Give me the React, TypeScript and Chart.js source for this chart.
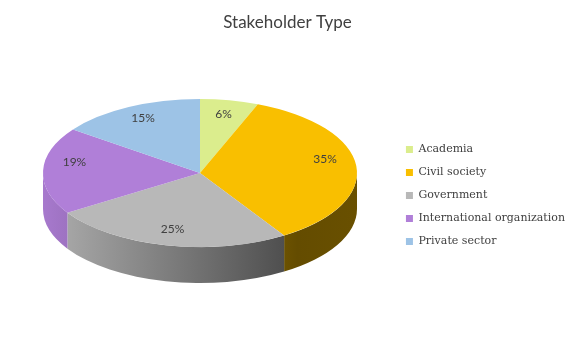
import React, { useEffect, useRef } from "react";
import { Chart, registerables } from "chart.js";

Chart.register(...registerables);

const categories = [
  "Academia",
  "Civil society",
  "Government",
  "International organization",
  "Private sector",
];
const shares = [6, 35, 25, 19, 15];
const colors = ["#DBED8D", "#F9BF00", "#B8B8B8", "#B07FD8", "#9DC3E6"];
const titleText = "Stakeholder Type";

const CX = 200;
const CY = 173;
const R = 157;
const K = 74 / 157;
const DEPTH = 36;
const LABEL_F = 0.8;
const LABEL_CY = 164;
const LABEL_RY_TOP = 64;
const LABEL_RY_BOTTOM = 84;

function hexToRgb(h: string) {
  const v = parseInt(h.slice(1), 16);
  return [(v >> 16) & 255, (v >> 8) & 255, v & 255];
}
function shade(h: string, f: number) {
  const [r, g, b] = hexToRgb(h);
  return `rgb(${Math.round(r * f)},${Math.round(g * f)},${Math.round(b * f)})`;
}

const pie3d = {
  id: "pie3d",
  beforeDatasetsDraw(chart: any) {
    const meta = chart.getDatasetMeta(0);
    const ctx = chart.ctx as CanvasRenderingContext2D;
    const arcs = meta.data;
    if (!arcs.length) return;
    const TWO = Math.PI * 2;
    arcs.forEach((arc: any, i: number) => {
      const { startAngle, endAngle } = arc.getProps(["startAngle", "endAngle"], true);
      for (const off of [-TWO, 0, TWO]) {
        const a0 = Math.max(startAngle + off, 0);
        const a1 = Math.min(endAngle + off, Math.PI);
        if (a1 <= a0) continue;
        const g = ctx.createLinearGradient(CX - R, 0, CX + R, 0);
        const col = colors[i % colors.length];
        g.addColorStop(0, shade(col, 0.95));
        g.addColorStop(0.81, shade(col, 0.4));
        g.addColorStop(1, shade(col, 0.42));
        ctx.save();
        ctx.beginPath();
        ctx.ellipse(CX, CY, R, R * K, 0, a0, a1);
        ctx.ellipse(CX, CY + DEPTH, R, R * K, 0, a1, a0, true);
        ctx.closePath();
        ctx.fillStyle = g;
        ctx.fill();
        ctx.restore();
      }
    });
    const a0: any = arcs[0];
    ctx.save();
    ctx.translate(CX, CY);
    ctx.scale(1, K);
    ctx.translate(-a0.x, -a0.y);
  },
  afterDatasetsDraw(chart: any) {
    const meta = chart.getDatasetMeta(0);
    const ctx = chart.ctx as CanvasRenderingContext2D;
    if (!meta.data.length) return;
    ctx.restore();
    ctx.save();
    ctx.font = "12px Lato";
    ctx.fillStyle = "#404040";
    ctx.textAlign = "center";
    ctx.textBaseline = "middle";
    meta.data.forEach((arc: any, i: number) => {
      const { startAngle, endAngle } = arc.getProps(["startAngle", "endAngle"], true);
      const mid = (startAngle + endAngle) / 2;
      const s = Math.sin(mid);
      const ry = s < 0 ? LABEL_RY_TOP : LABEL_RY_BOTTOM;
      const x = CX + R * LABEL_F * Math.cos(mid);
      const y = LABEL_CY + ry * LABEL_F * s;
      ctx.fillText(`${shares[i]}%`, x, y);
    });
    ctx.restore();
  },
};

export default function App() {
  const ref = useRef<HTMLCanvasElement>(null);
  useEffect(() => {
    document.body.style.margin = "0";
    const chart = new Chart(ref.current!, {
      type: "pie",
      data: {
        labels: categories,
        datasets: [
          {
            data: shares,
            backgroundColor: colors,
            borderWidth: 0,
            radius: R,
            clip: false,
          } as any,
        ],
      },
      options: {
        animation: false,
        responsive: true,
        maintainAspectRatio: false,
        layout: { padding: { right: 5, bottom: 98 } },
        plugins: {
          title: {
            display: true,
            text: titleText,
            color: "#404040",
            font: { family: "Lato", size: 17, weight: "normal" },
            padding: { top: 12, bottom: 10 },
          },
          legend: {
            position: "right",
            align: "end",
            labels: {
              boxWidth: 7,
              boxHeight: 7,
              padding: 12,
              color: "#404040",
              font: { family: "DejaVu Serif", size: 11 },
            },
          },
          tooltip: { enabled: false },
        },
      },
      plugins: [pie3d],
    });
    return () => chart.destroy();
  }, []);
  return (
    <div style={{ width: 580, height: 357, position: "relative", background: "#fff" }}>
      <canvas ref={ref} />
    </div>
  );
}
